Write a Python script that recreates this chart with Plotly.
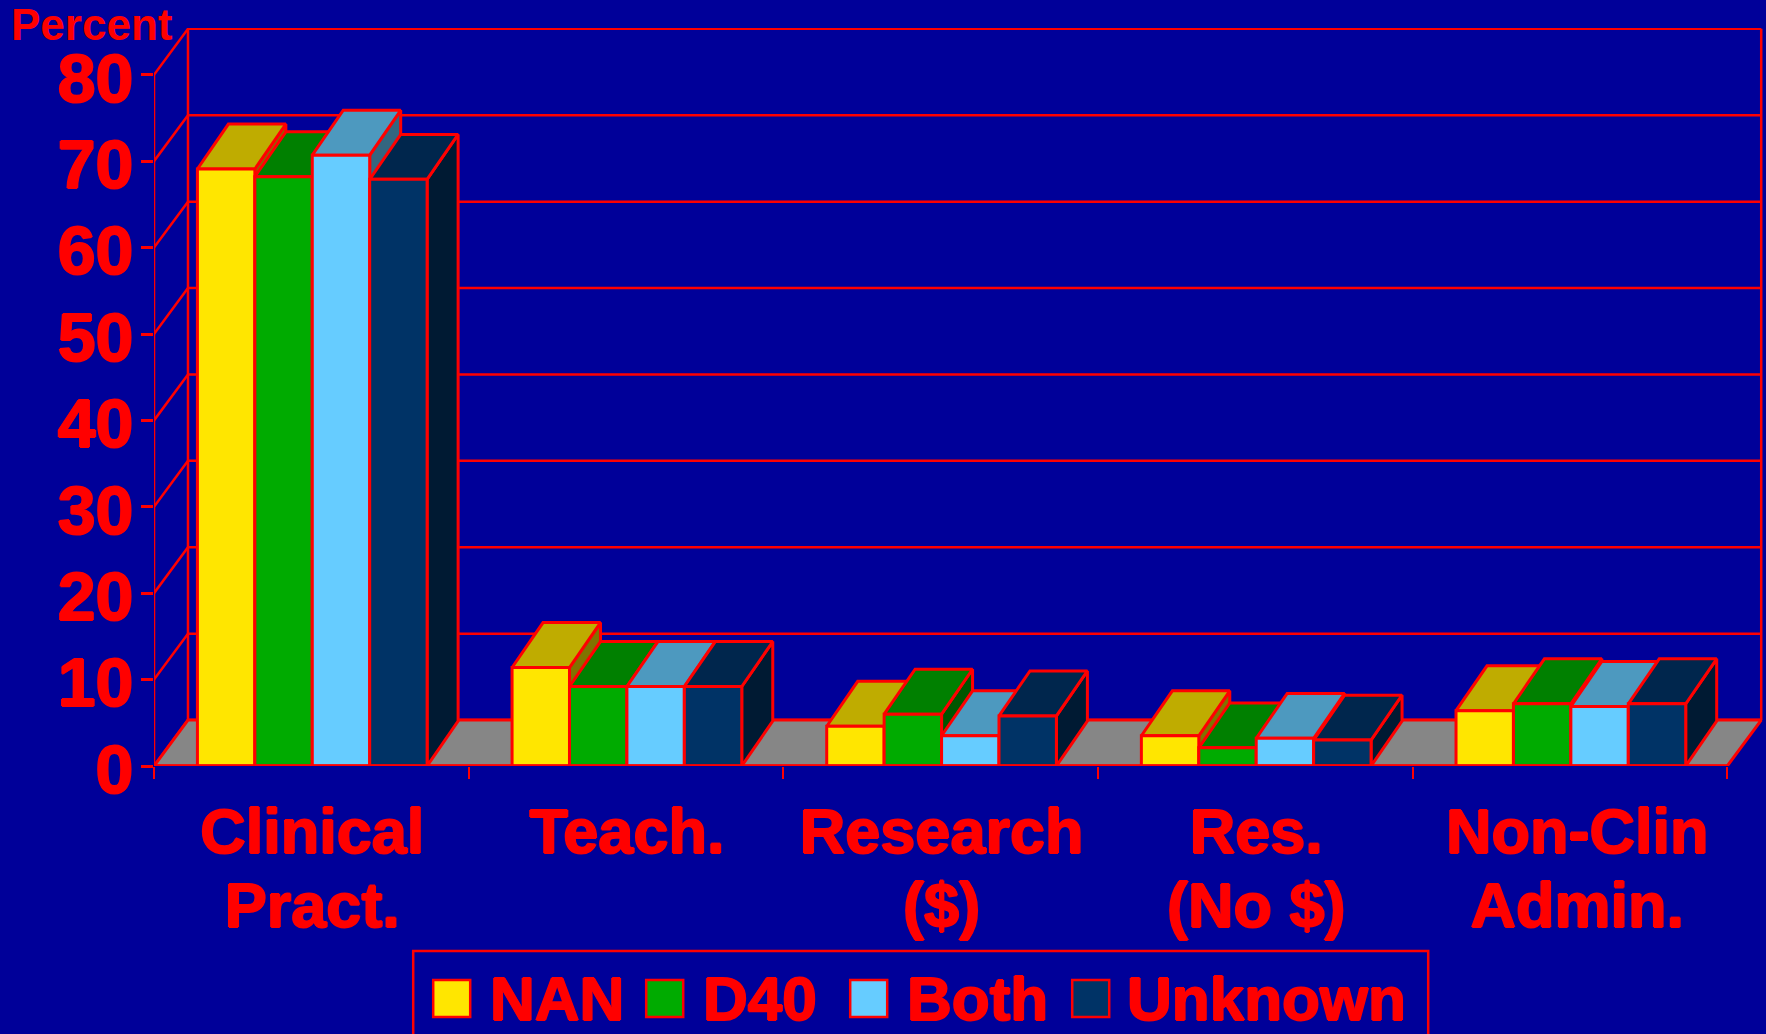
import plotly.graph_objects as go

# Values (percent)
categories = ["Clinical<br>Pract.", "Teach.", "Research<br>($)", "Res.<br>(No $)", "Non-Clin<br>Admin."]
nan_vals = [69.1, 11.4, 4.6, 3.5, 6.4]
d40_vals = [68.2, 9.2, 6.0, 2.1, 7.2]
both_vals = [70.7, 9.2, 3.5, 3.2, 6.9]
unknown_vals = [67.9, 9.2, 5.8, 3.0, 7.2]
y_ticks = [0, 10, 20, 30, 40, 50, 60, 70, 80]

series = [
    ("NAN", nan_vals, "#FFE600", "#BFAC00", "#807300"),
    ("D40", d40_vals, "#00AB00", "#008000", "#005600"),
    ("Both", both_vals, "#66CCFF", "#4D99BF", "#336680"),
    ("Unknown", unknown_vals, "#003366", "#00264D", "#001A33"),
]

RED = "#FF0000"
BG = "#000099"
FONT = "Liberation Sans"
# the reference text has a heavy outline
HEAVY = "1px 0 0 #FF0000, -1px 0 0 #FF0000, 0 1px 0 #FF0000, 0 -1px 0 #FF0000"

# fake 3D offsets, in axis units
wall_dx, wall_dy = 0.108, 5.32
bar_dx, bar_dy = 0.0985, 5.2
bar_w = 0.1825
bar_start = 0.138
n_cat = len(categories)

# plot area in pixels, the legend is placed from these
W, H = 1766, 1034
left, right, top, bottom = 153.8, 1.2, 28, 268
x_max = 5.12
y_max = 85.417


def px_x(p):
    return (p - left) / (W - left - right)


def px_y(p):
    return (H - bottom - p) / (H - top - bottom)


fig = go.Figure()


def poly(xs, ys, fill=None, width=3):
    fig.add_trace(go.Scatter(
        x=xs, y=ys, mode="lines",
        fill="toself" if fill else "none",
        fillcolor=fill,
        line=dict(color=RED, width=width),
        showlegend=False, hoverinfo="skip", cliponaxis=False,
    ))


# Back wall grid lines and the diagonals running back from the y axis
for t in y_ticks:
    poly([0, wall_dx, n_cat + wall_dx], [t, t + wall_dy, t + wall_dy], width=2.5)
poly([wall_dx, wall_dx], [wall_dy, y_ticks[-1] + wall_dy], width=2.5)
poly([n_cat + wall_dx, n_cat + wall_dx], [wall_dy, y_ticks[-1] + wall_dy], width=2.5)
# y axis line
poly([0, 0], [0, y_ticks[-1]], width=2.5)

# Floor
poly([0, n_cat, n_cat + wall_dx, wall_dx, 0], [0, 0, wall_dy, wall_dy, 0], fill="#868686")

# Bars, left to right so each one covers the depth faces of its left neighbour
for c in range(n_cat):
    for s, (name, vals, front, top_c, side) in enumerate(series):
        x0 = c + bar_start + s * bar_w
        x1 = x0 + bar_w
        v = vals[c]
        poly([x1, x1 + bar_dx, x1 + bar_dx, x1, x1], [0, bar_dy, v + bar_dy, v, 0], fill=side)
        poly([x0, x1, x1 + bar_dx, x0 + bar_dx, x0], [v, v, v + bar_dy, v + bar_dy, v], fill=top_c)
        poly([x0, x1, x1, x0, x0], [0, 0, v, v, 0], fill=front)

# x axis line
poly([0, n_cat], [0, 0], width=3.5)

# Legend is drawn by hand, plotly caps its swatches at 16px
legend_text_x = [488, 701, 905, 1125]
legend_swatch_x = [433, 646, 850, 1072]
shapes = [dict(type="rect", xref="paper", yref="paper",
               x0=px_x(413), x1=px_x(1428), y0=px_y(951), y1=px_y(1050),
               line=dict(color=RED, width=2.5), fillcolor=BG)]
annotations = [dict(
    text="Percent", xref="paper", yref="paper", x=px_x(9), y=px_y(25),
    xanchor="left", yanchor="middle", showarrow=False,
    font=dict(family=FONT, size=44, weight=700, color=RED),
)]
for (name, vals, front, top_c, side), sx, tx in zip(series, legend_swatch_x, legend_text_x):
    shapes.append(dict(type="rect", xref="paper", yref="paper",
                       x0=px_x(sx), x1=px_x(sx + 37), y0=px_y(980), y1=px_y(1017),
                       line=dict(color=RED, width=2.5), fillcolor=front))
    annotations.append(dict(
        text=name, xref="paper", yref="paper", x=px_x(tx), y=px_y(998),
        xanchor="left", yanchor="middle", showarrow=False,
        font=dict(family=FONT, size=62, weight=700, color=RED, shadow=HEAVY),
    ))

# base size sets the line pitch, the span sets the glyph size
tick_text = ["<br>".join('<span style="font-size:63px">%s</span>' % p for p in c.split("<br>"))
             for c in categories]
label_pos = [0.5, 1.5, 2.5, 3.5, 4.52]

fig.update_layout(
    width=W,
    height=H,
    margin=dict(l=left, r=right, t=top, b=bottom, autoexpand=False),
    paper_bgcolor=BG,
    plot_bgcolor=BG,
    font=dict(family=FONT, color=RED),
    showlegend=False,
    shapes=shapes,
    annotations=annotations,
)
fig.update_xaxes(
    range=[0, x_max],
    tickmode="array",
    tickvals=label_pos,
    ticktext=tick_text,
    ticks="",
    ticklabelstandoff=28,
    ticklabelshift=1,
    tickangle=0,
    tickfont=dict(family=FONT, size=57.5, weight=700, color=RED, shadow=HEAVY),
    minor=dict(tickmode="array", tickvals=list(range(n_cat + 1)), ticks="outside",
               ticklen=12, tickwidth=2, tickcolor=RED),
    showgrid=False, zeroline=False, showline=False,
)
fig.update_yaxes(
    range=[0, y_max],
    tickmode="array",
    tickvals=y_ticks,
    ticks="outside", ticklen=12, tickwidth=2.5, tickcolor=RED,
    ticklabelstandoff=-6,
    ticklabelshift=3,
    tickfont=dict(family=FONT, size=68, weight=700, color=RED, shadow=HEAVY),
    showgrid=False, zeroline=False, showline=False,
)

fig.write_html("out.html", post_script="document.body.style.margin='0';",
               config={"displayModeBar": False})
